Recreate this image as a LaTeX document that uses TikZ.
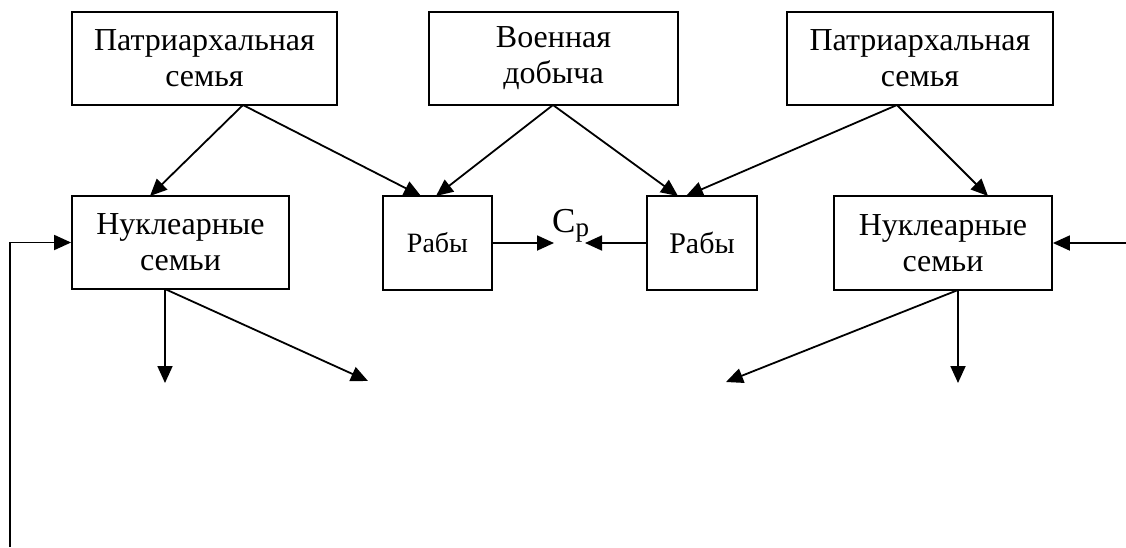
\documentclass[tikz,border=0pt]{standalone}
\usepackage{fontspec}
\setmainfont{Liberation Serif}
\usetikzlibrary{arrows.meta}
\begin{document}
\begin{tikzpicture}[x=1pt,y=-1pt,
  box/.style={draw,line width=1.8pt,inner sep=0pt,align=center,font=\fontsize{32}{36}\selectfont},
  arr/.style={line width=1.8pt,-{Triangle[length=17pt,width=15pt]}}]
\useasboundingbox (0,0) rectangle (1126,547);
% top boxes
\node[box,minimum width=265pt,minimum height=93pt] (pl) at (204.5,58.5) {Патриархальная\\семья};
\node[box,minimum width=249pt,minimum height=93pt] (war) at (553.5,58.5) {Военная\\добыча};
\node[box,minimum width=266pt,minimum height=93pt] (pr) at (920,58.5) {Патриархальная\\семья};
% middle boxes
\node[box,minimum width=217pt,minimum height=93pt] (nl) at (180.5,242.5) {Нуклеарные\\семьи};
\node[box,minimum width=109pt,minimum height=94pt,font=\fontsize{28}{32}\selectfont] (rl) at (437.5,243) {Рабы};
\node[box,minimum width=110pt,minimum height=94pt,font=\fontsize{30}{34}\selectfont] (rr) at (702,243) {Рабы};
\node[box,minimum width=218pt,minimum height=94pt] (nr) at (943,243) {Нуклеарные\\семьи};
% Cp label
\node[inner sep=0pt,anchor=base west,font=\fontsize{35}{38}\selectfont] (cp) at (552,232) {С\raisebox{-0.12em}{\fontsize{27}{30}\selectfont р}};
% coordinates
\coordinate (plo) at (243,105);
\coordinate (waro) at (553,105);
\coordinate (pro) at (897,105);
\coordinate (nlt) at (150,196);
\coordinate (rlt1) at (421,196);
\coordinate (rlt2) at (436,196);
\coordinate (rrt1) at (678,196);
\coordinate (rrt2) at (686,196);
\coordinate (nrt) at (988,196);
\coordinate (cpl) at (554,243);
\coordinate (cpr) at (585,243);
\coordinate (fb) at (10,547);
\coordinate (rin) at (1126,243);
\coordinate (nlo) at (165,289);
\coordinate (nld) at (165,383);
\coordinate (nlr) at (368,381);
\coordinate (nro) at (958,290);
\coordinate (nrd) at (958,383);
\coordinate (nrl) at (726,382);
% arrows
\draw[arr] (plo) -- (nlt);
\draw[arr] (plo) -- (rlt1);
\draw[arr] (waro) -- (rlt2);
\draw[arr] (waro) -- (rrt1);
\draw[arr] (pro) -- (rrt2);
\draw[arr] (pro) -- (nrt);
\draw[arr] (rl.east) -- (cpl);
\draw[arr] (rr.west) -- (cpr);
\draw[arr] (fb) |- (nl.west);
\draw[arr] (rin) -- (nr.east);
\draw[arr] (nlo) -- (nld);
\draw[arr] (nlo) -- (nlr);
\draw[arr] (nro) -- (nrd);
\draw[arr] (nro) -- (nrl);
\end{tikzpicture}
\end{document}
